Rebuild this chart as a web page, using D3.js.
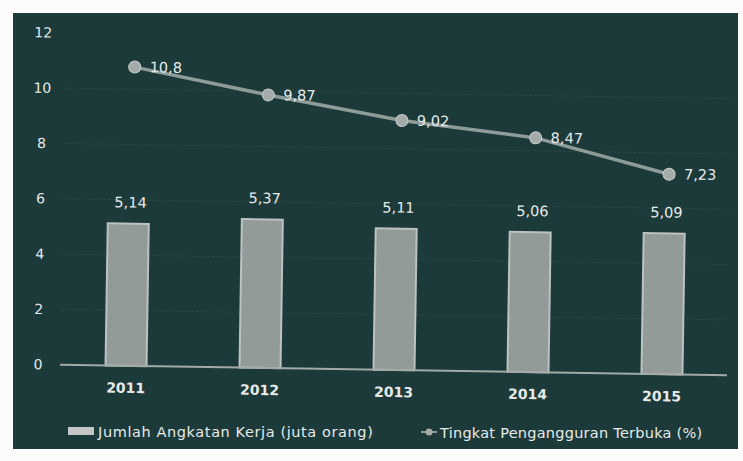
<!DOCTYPE html>
<html><head><meta charset="utf-8">
<script src="https://cdn.jsdelivr.net/npm/d3@7"></script>
<style>html,body{margin:0;padding:0;background:#fff;}svg{display:block;}</style>
</head><body>
<script>
const years = ["2011","2012","2013","2014","2015"];
const workforce = [5.14, 5.37, 5.11, 5.06, 5.09];
const workforceLabels = ["5,14","5,37","5,11","5,06","5,09"];
const unemployment = [10.8, 9.87, 9.02, 8.47, 7.23];
const unemploymentLabels = ["10,8","9,87","9,02","8,47","7,23"];
const yTicks = [0, 2, 4, 6, 8, 10, 12];
const legendBar = "Jumlah Angkatan Kerja (juta orang)";
const legendLine = "Tingkat Pengangguran Terbuka (%)";

const W = 743, H = 461;
const font = "'DejaVu Sans', sans-serif";
const txt = "#e6eae9";
const svg = d3.select("body").append("svg").attr("width", W).attr("height", H);
svg.append("rect").attr("width", W).attr("height", H).attr("fill", "#fbfbfb");
svg.append("rect").attr("x", 13).attr("y", 13).attr("width", 725).attr("height", 436).attr("fill", "#1c3a39");

const g = svg.append("g").attr("transform", "rotate(0.9,394,370)");
const x = d3.scaleBand().domain(years).range([59, 729]).paddingInner(0.694).paddingOuter(0.347);
const y = d3.scaleLinear().domain([0, 12]).range([370, 38]);

// faint gridlines
g.append("g").selectAll("line").data(yTicks.filter(d => d > 0 && d < 12)).join("line")
  .attr("x1", 60).attr("x2", 727).attr("y1", d => y(d)).attr("y2", d => y(d))
  .attr("stroke", "#ffffff").attr("stroke-opacity", 0.07).attr("stroke-dasharray", "3,2");

// y labels
g.append("g").selectAll("text").data(yTicks).join("text")
  .attr("x", 38).attr("y", d => y(d) + 5).attr("text-anchor", "middle")
  .attr("fill", txt).attr("font-family", font).attr("font-size", 14).text(d => d);

// bars
g.append("g").selectAll("rect").data(years).join("rect")
  .attr("x", d => x(d)).attr("width", x.bandwidth())
  .attr("y", (d, i) => y(workforce[i])).attr("height", (d, i) => y(0) - y(workforce[i]))
  .attr("fill", "#939b99").attr("stroke", "#bcc2c0").attr("stroke-width", 2);

// baseline
g.append("line").attr("x1", 60).attr("x2", 727).attr("y1", y(0)).attr("y2", y(0))
  .attr("stroke", "#a3aba9").attr("stroke-width", 2);

// bar labels
g.append("g").selectAll("text").data(years).join("text")
  .attr("x", d => x(d) + x.bandwidth() / 2 + 2).attr("y", (d, i) => y(workforce[i]) - 16)
  .attr("text-anchor", "middle").attr("fill", txt).attr("font-family", font).attr("font-size", 14.5)
  .text((d, i) => workforceLabels[i]);

// x labels
g.append("g").selectAll("text").data(years).join("text")
  .attr("x", d => x(d) + x.bandwidth() / 2).attr("y", 397)
  .attr("text-anchor", "middle").attr("fill", txt).attr("font-family", font).attr("font-size", 14)
  .attr("font-weight", "bold").text(d => d);

// line
const cx = d => x(d) + x.bandwidth() / 2 + 4;
const line = d3.line().x((d, i) => cx(years[i])).y(d => y(d));
g.append("path").datum(unemployment).attr("d", line).attr("fill", "none")
  .attr("stroke", "#8d9b99").attr("stroke-width", 3.5);
g.append("g").selectAll("circle").data(unemployment).join("circle")
  .attr("cx", (d, i) => cx(years[i])).attr("cy", d => y(d)).attr("r", 6)
  .attr("fill", "#a4acaa").attr("stroke", "#c9cdcc").attr("stroke-width", 1);
g.append("g").selectAll("text").data(unemployment).join("text")
  .attr("x", (d, i) => cx(years[i]) + 15).attr("y", d => y(d) + 5)
  .attr("fill", txt).attr("font-family", font).attr("font-size", 14.5)
  .text((d, i) => unemploymentLabels[i]);

// legend
const lg = svg.append("g");
lg.append("rect").attr("x", 68).attr("y", 427).attr("width", 26).attr("height", 8)
  .attr("fill", "#c3c8c6");
lg.append("text").attr("x", 98).attr("y", 437).attr("fill", txt).attr("font-family", font)
  .attr("font-size", 14.5).attr("letter-spacing", 0.6).text(legendBar);
lg.append("line").attr("x1", 421).attr("x2", 437).attr("y1", 432).attr("y2", 432)
  .attr("stroke", "#8d9b99").attr("stroke-width", 2);
lg.append("circle").attr("cx", 429).attr("cy", 432).attr("r", 3.5).attr("fill", "#a4acaa");
lg.append("text").attr("x", 440).attr("y", 438).attr("fill", txt).attr("font-family", font)
  .attr("font-size", 14.5).attr("letter-spacing", 0.25).text(legendLine);
</script>
</body></html>
